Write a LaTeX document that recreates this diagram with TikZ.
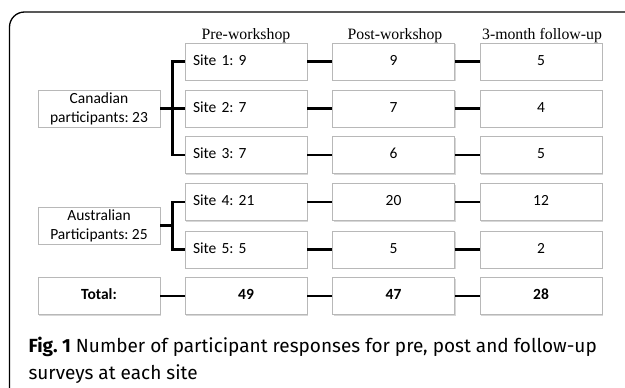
\documentclass[tikz,border=0pt]{standalone}
\usepackage{fontspec}
\setmainfont{Carlito}
\newfontfamily\hdrfont{Liberation Serif}
\newfontfamily\capfont{Fira Sans}
\usetikzlibrary{shadows}
\frenchspacing
\begin{document}
\begin{tikzpicture}[x=1pt,y=-1pt,
  box/.style={draw=black!28, line width=0.8pt, fill=white, minimum width=122pt, minimum height=37pt,
    inner sep=0pt, font=\fontsize{15.5}{19}\selectfont, align=center,
    drop shadow={shadow xshift=1pt, shadow yshift=-1.3pt, opacity=0.35, fill=black!45}},
  one/.style={text height=10.5pt, text depth=3pt},
  sitebox/.style={box, one, text width=106pt, inner xsep=8pt, align=left},
  numbox/.style={box, one},
  boldbox/.style={box, one, font=\bfseries\fontsize{15.5}{19}\selectfont},
  link/.style={line width=2.6pt, line join=miter},
  hdr/.style={font=\hdrfont\fontsize{15.8}{18}\selectfont, anchor=base},
  captext/.style={font=\capfont\fontsize{19}{27}\selectfont, anchor=base west}]
\useasboundingbox (0,0) rectangle (625,388);
\draw[line width=1.3pt, rounded corners=15pt] (9.5,400) -- (9.5,12) -- (640,12);

% headers
\node[hdr] (h1) at (246,39) {Pre-workshop};
\node[hdr] (h2) at (395,39) {Post-workshop};
\node[hdr] (h3) at (542,39) {3-month follow-up};

% column 1
\node[box] (can) at (99,108.5) {Canadian\\participants: 23};
\node[box] (aus) at (99,225.5) {Australian\\Participants: 25};
\node[boldbox] (tot) at (99,296) {Total:};

% column 2
\node[sitebox] (s1) at (246,61.5) {Site 1: 9};
\node[sitebox] (s2) at (246,108.5) {Site 2: 7};
\node[sitebox] (s3) at (246,155) {Site 3: 7};
\node[sitebox] (s4) at (246,202) {Site 4: 21};
\node[sitebox] (s5) at (246,249.5) {Site 5: 5};
\node[boldbox] (t1) at (246,296) {49};

% column 3
\node[numbox] (p1) at (393.5,61.5) {9};
\node[numbox] (p2) at (393.5,108.5) {7};
\node[numbox] (p3) at (393.5,155) {6};
\node[numbox] (p4) at (393.5,202) {20};
\node[numbox] (p5) at (393.5,249.5) {5};
\node[boldbox] (t2) at (393.5,296) {47};

% column 4
\node[numbox] (f1) at (541,61.5) {5};
\node[numbox] (f2) at (541,108.5) {4};
\node[numbox] (f3) at (541,155) {5};
\node[numbox] (f4) at (541,202) {12};
\node[numbox] (f5) at (541,249.5) {2};
\node[boldbox] (t3) at (541,296) {28};

% connectors
\coordinate (ta) at (173,225.5);
\draw[link] (s1.west) -- ++(-12,0) |- (s3.west);
\draw[link] (can.east) -- (s2.west);
\draw[link] (s4.west) -- ++(-12,0) |- (s5.west);
\draw[link] (aus.east) -- (ta);
\draw[link] (tot.east) -- (t1.west);
\foreach \a/\b in {s1/p1,s2/p2,s3/p3,s4/p4,s5/p5,t1/t2,p1/f1,p2/f2,p3/f3,p4/f4,p5/f5,t2/t3}
  \draw[link] (\a.east) -- (\b.west);

% caption
\node[captext] (c1) at (25,352) {\textbf{Fig. 1} Number of participant responses for pre, post and follow-up};
\node[captext] (c2) at (25,379) {surveys at each site};
\end{tikzpicture}
\end{document}
